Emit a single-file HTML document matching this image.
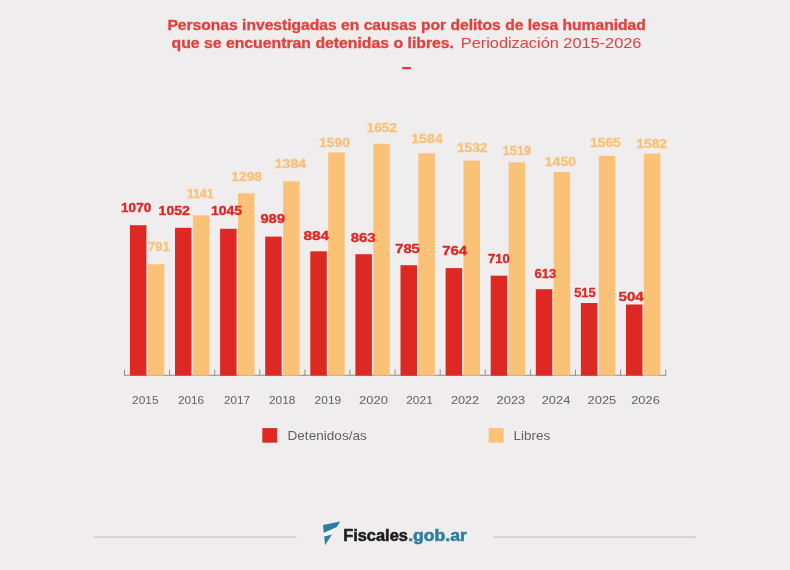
<!DOCTYPE html>
<html lang="es"><head><meta charset="utf-8"><title>Personas investigadas en causas por delitos de lesa humanidad</title>
<style>html,body{margin:0;padding:0;background:#efeded}body{width:790px;height:570px;overflow:hidden}svg{display:block}text{font-family:"Liberation Sans",sans-serif}.b{font-weight:700}.t{stroke:#e4403b;stroke-width:.3}.r{stroke:#de2823;stroke-width:.35}.o{stroke:#f9c277;stroke-width:.35}.l1{stroke:#1c1c1c;stroke-width:.55}.l2{stroke:#2a7f9e;stroke-width:.55}</style></head><body>
<svg width="790" height="570" viewBox="0 0 790 570">
<rect width="790" height="570" fill="#efeded"/>
<text class="b t" x="167.4" y="29.5" font-size="14.2" fill="#e4403b" textLength="478.4" lengthAdjust="spacingAndGlyphs">Personas investigadas en causas por delitos de lesa humanidad</text>
<text class="b t" x="171.5" y="47.7" font-size="14.2" fill="#e4403b" textLength="282.5" lengthAdjust="spacingAndGlyphs">que se encuentran detenidas o libres.</text>
<text x="460.8" y="47.7" font-size="14.8" fill="#e4403b" textLength="180.6" lengthAdjust="spacingAndGlyphs">Periodización 2015-2026</text>
<rect x="402.1" y="67" width="8.8" height="2.2" fill="#e53935"/>
<rect x="124" y="374.8" width="542.2" height="1" fill="#8f8f8f"/>
<rect x="124.0" y="369.6" width="1" height="5.7" fill="#8f8f8f"/>
<rect x="169.1" y="369.6" width="1" height="5.7" fill="#8f8f8f"/>
<rect x="214.2" y="369.6" width="1" height="5.7" fill="#8f8f8f"/>
<rect x="259.3" y="369.6" width="1" height="5.7" fill="#8f8f8f"/>
<rect x="304.4" y="369.6" width="1" height="5.7" fill="#8f8f8f"/>
<rect x="349.5" y="369.6" width="1" height="5.7" fill="#8f8f8f"/>
<rect x="394.6" y="369.6" width="1" height="5.7" fill="#8f8f8f"/>
<rect x="439.7" y="369.6" width="1" height="5.7" fill="#8f8f8f"/>
<rect x="484.8" y="369.6" width="1" height="5.7" fill="#8f8f8f"/>
<rect x="529.9" y="369.6" width="1" height="5.7" fill="#8f8f8f"/>
<rect x="575.0" y="369.6" width="1" height="5.7" fill="#8f8f8f"/>
<rect x="620.1" y="369.6" width="1" height="5.7" fill="#8f8f8f"/>
<rect x="665.2" y="369.6" width="1" height="5.7" fill="#8f8f8f"/>
<rect x="129.9" y="225.2" width="16.5" height="150.4" fill="#de2823"/>
<rect x="147.8" y="264.3" width="16.5" height="111.3" fill="#f9c277"/>
<rect x="175.0" y="227.8" width="16.5" height="147.8" fill="#de2823"/>
<rect x="192.9" y="215.3" width="16.5" height="160.3" fill="#f9c277"/>
<rect x="220.1" y="228.8" width="16.5" height="146.9" fill="#de2823"/>
<rect x="238.0" y="193.3" width="16.5" height="182.3" fill="#f9c277"/>
<rect x="265.2" y="236.6" width="16.5" height="139.0" fill="#de2823"/>
<rect x="283.1" y="181.3" width="16.5" height="194.3" fill="#f9c277"/>
<rect x="310.3" y="251.3" width="16.5" height="124.3" fill="#de2823"/>
<rect x="328.2" y="152.4" width="16.5" height="223.2" fill="#f9c277"/>
<rect x="355.4" y="254.2" width="16.5" height="121.4" fill="#de2823"/>
<rect x="373.3" y="143.8" width="16.5" height="231.8" fill="#f9c277"/>
<rect x="400.5" y="265.2" width="16.5" height="110.5" fill="#de2823"/>
<rect x="418.4" y="153.3" width="16.5" height="222.3" fill="#f9c277"/>
<rect x="445.6" y="268.1" width="16.5" height="107.5" fill="#de2823"/>
<rect x="463.5" y="160.6" width="16.5" height="215.0" fill="#f9c277"/>
<rect x="490.7" y="275.7" width="16.5" height="100.0" fill="#de2823"/>
<rect x="508.6" y="162.4" width="16.5" height="213.2" fill="#f9c277"/>
<rect x="535.8" y="289.2" width="16.5" height="86.4" fill="#de2823"/>
<rect x="553.7" y="172.0" width="16.5" height="203.6" fill="#f9c277"/>
<rect x="580.9" y="303.0" width="16.5" height="72.7" fill="#de2823"/>
<rect x="598.8" y="155.9" width="16.5" height="219.7" fill="#f9c277"/>
<rect x="626.0" y="304.5" width="16.5" height="71.1" fill="#de2823"/>
<rect x="643.9" y="153.6" width="16.5" height="222.0" fill="#f9c277"/>
<text class="b r" x="121.1" y="211.5" font-size="12.4" fill="#de2823" textLength="30.1" lengthAdjust="spacingAndGlyphs">1070</text>
<text class="b r" x="158.6" y="215.2" font-size="12.4" fill="#de2823" textLength="31.2" lengthAdjust="spacingAndGlyphs">1052</text>
<text class="b r" x="211.0" y="214.5" font-size="12.4" fill="#de2823" textLength="31.1" lengthAdjust="spacingAndGlyphs">1045</text>
<text class="b r" x="260.4" y="223.2" font-size="12.4" fill="#de2823" textLength="24.6" lengthAdjust="spacingAndGlyphs">989</text>
<text class="b r" x="303.5" y="239.7" font-size="12.4" fill="#de2823" textLength="25.7" lengthAdjust="spacingAndGlyphs">884</text>
<text class="b r" x="350.8" y="241.8" font-size="12.4" fill="#de2823" textLength="24.8" lengthAdjust="spacingAndGlyphs">863</text>
<text class="b r" x="395.3" y="252.5" font-size="12.4" fill="#de2823" textLength="24.5" lengthAdjust="spacingAndGlyphs">785</text>
<text class="b r" x="442.2" y="254.9" font-size="12.4" fill="#de2823" textLength="25.0" lengthAdjust="spacingAndGlyphs">764</text>
<text class="b r" x="488.0" y="262.5" font-size="12.4" fill="#de2823" textLength="21.8" lengthAdjust="spacingAndGlyphs">710</text>
<text class="b r" x="534.5" y="277.6" font-size="12.4" fill="#de2823" textLength="21.6" lengthAdjust="spacingAndGlyphs">613</text>
<text class="b r" x="574.2" y="296.5" font-size="12.4" fill="#de2823" textLength="21.4" lengthAdjust="spacingAndGlyphs">515</text>
<text class="b r" x="618.5" y="300.7" font-size="12.4" fill="#de2823" textLength="25.2" lengthAdjust="spacingAndGlyphs">504</text>
<text class="b o" x="148.1" y="250.6" font-size="12.4" fill="#f9c277" textLength="21.8" lengthAdjust="spacingAndGlyphs">791</text>
<text class="b o" x="186.9" y="197.5" font-size="12.4" fill="#f9c277" textLength="26.6" lengthAdjust="spacingAndGlyphs">1141</text>
<text class="b o" x="231.2" y="180.6" font-size="12.4" fill="#f9c277" textLength="30.9" lengthAdjust="spacingAndGlyphs">1298</text>
<text class="b o" x="274.7" y="167.5" font-size="12.4" fill="#f9c277" textLength="31.6" lengthAdjust="spacingAndGlyphs">1384</text>
<text class="b o" x="319.0" y="146.8" font-size="12.4" fill="#f9c277" textLength="30.9" lengthAdjust="spacingAndGlyphs">1590</text>
<text class="b o" x="366.7" y="131.8" font-size="12.4" fill="#f9c277" textLength="30.2" lengthAdjust="spacingAndGlyphs">1652</text>
<text class="b o" x="411.2" y="142.6" font-size="12.4" fill="#f9c277" textLength="31.6" lengthAdjust="spacingAndGlyphs">1584</text>
<text class="b o" x="456.9" y="151.7" font-size="12.4" fill="#f9c277" textLength="30.5" lengthAdjust="spacingAndGlyphs">1532</text>
<text class="b o" x="502.6" y="154.5" font-size="12.4" fill="#f9c277" textLength="28.6" lengthAdjust="spacingAndGlyphs">1519</text>
<text class="b o" x="544.8" y="165.8" font-size="12.4" fill="#f9c277" textLength="31.2" lengthAdjust="spacingAndGlyphs">1450</text>
<text class="b o" x="590.1" y="146.8" font-size="12.4" fill="#f9c277" textLength="30.6" lengthAdjust="spacingAndGlyphs">1565</text>
<text class="b o" x="636.2" y="147.9" font-size="12.4" fill="#f9c277" textLength="30.9" lengthAdjust="spacingAndGlyphs">1582</text>
<text x="132.1" y="403.6" font-size="11.2" fill="#626262" textLength="26.4" lengthAdjust="spacingAndGlyphs">2015</text>
<text x="177.9" y="403.6" font-size="11.2" fill="#626262" textLength="26.3" lengthAdjust="spacingAndGlyphs">2016</text>
<text x="224.0" y="403.6" font-size="11.2" fill="#626262" textLength="25.9" lengthAdjust="spacingAndGlyphs">2017</text>
<text x="268.9" y="403.6" font-size="11.2" fill="#626262" textLength="26.5" lengthAdjust="spacingAndGlyphs">2018</text>
<text x="314.6" y="403.6" font-size="11.2" fill="#626262" textLength="26.6" lengthAdjust="spacingAndGlyphs">2019</text>
<text x="358.9" y="403.6" font-size="11.2" fill="#626262" textLength="29.0" lengthAdjust="spacingAndGlyphs">2020</text>
<text x="406.2" y="403.6" font-size="11.2" fill="#626262" textLength="26.6" lengthAdjust="spacingAndGlyphs">2021</text>
<text x="450.9" y="403.6" font-size="11.2" fill="#626262" textLength="28.3" lengthAdjust="spacingAndGlyphs">2022</text>
<text x="496.6" y="403.6" font-size="11.2" fill="#626262" textLength="28.7" lengthAdjust="spacingAndGlyphs">2023</text>
<text x="541.7" y="403.6" font-size="11.2" fill="#626262" textLength="28.7" lengthAdjust="spacingAndGlyphs">2024</text>
<text x="587.6" y="403.6" font-size="11.2" fill="#626262" textLength="28.6" lengthAdjust="spacingAndGlyphs">2025</text>
<text x="631.2" y="403.6" font-size="11.2" fill="#626262" textLength="28.7" lengthAdjust="spacingAndGlyphs">2026</text>
<rect x="262.3" y="428.1" width="14.8" height="14.6" fill="#de2823"/>
<text x="287.5" y="440.1" font-size="12.2" fill="#626262" textLength="79.3" lengthAdjust="spacingAndGlyphs">Detenidos/as</text>
<rect x="488.7" y="428.1" width="14.9" height="14.6" fill="#f9c277"/>
<text x="513.6" y="440.1" font-size="12.2" fill="#626262" textLength="36.7" lengthAdjust="spacingAndGlyphs">Libres</text>
<rect x="94" y="536.5" width="202.7" height="1.2" fill="#c4c4c4"/>
<rect x="493.1" y="536.5" width="202.7" height="1.2" fill="#c4c4c4"/>
<polygon points="323,525.1 340.2,521.5 325.1,545.3" fill="#2a7f9e"/>
<polygon points="323.6,533 337,527 335.6,529.6 331.8,534.4 324.1,536.4" fill="#ffffff"/>
<text class="b l1" x="343.2" y="540.8" font-size="16" fill="#1c1c1c" textLength="64.7" lengthAdjust="spacingAndGlyphs">Fiscales</text>
<text class="b l2" x="408.2" y="541" font-size="16" fill="#2a7f9e" textLength="58.6" lengthAdjust="spacingAndGlyphs">.gob.ar</text>
</svg></body></html>
